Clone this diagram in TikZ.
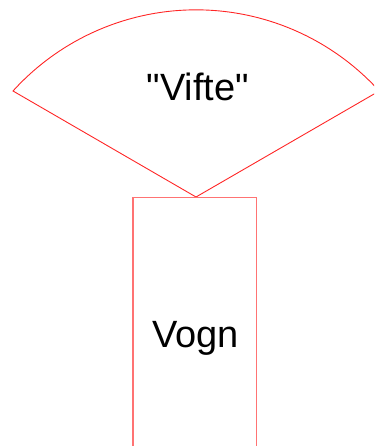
\documentclass[tikz,border=0pt]{standalone}
\usepackage{fontspec}
\setmainfont{Liberation Sans}
\begin{document}
\begin{tikzpicture}[x=1pt,y=1pt,
  fanline/.style={draw=red!85, line width=0.9pt, line join=miter},
  boxline/.style={draw=red!55, line width=1.3pt},
  lbl/.style={font=\fontsize{38}{45}\selectfont, text=black, inner sep=0pt, anchor=base}]
\useasboundingbox (0,0) rectangle (374,446);
\clip (0,0) rectangle (374,446);
\coordinate (apex) at (196,249);
\coordinate (fanleft) at (13,355);
\path[fanline] (fanleft) arc[start angle=137.8, end angle=42.2, radius=247.2] -- (apex) -- cycle;
\node[lbl] (vifte) at (198,345) {\textquotedbl Vifte\textquotedbl};
\path[boxline] (133,-5) -- (133,248.5) -- (256.5,248.5) -- (256.5,-5);
\node[lbl] (vogn) at (195.5,98) {Vogn};
\end{tikzpicture}
\end{document}
